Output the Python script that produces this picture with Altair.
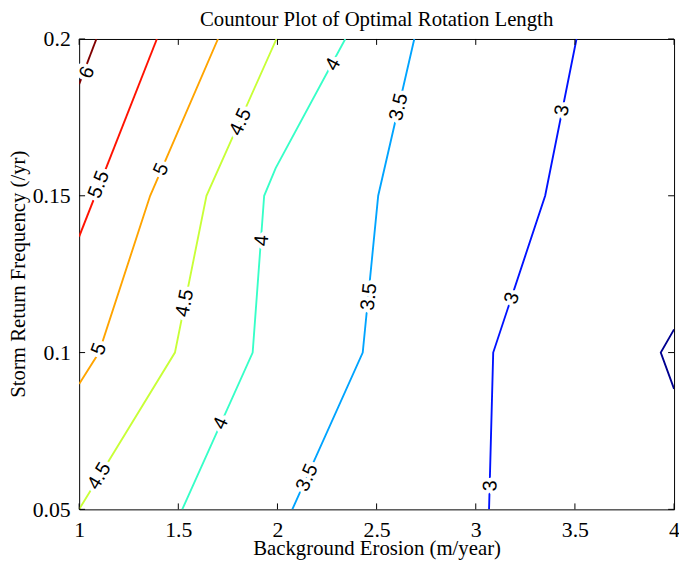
import altair as alt
import pandas as pd

# ---- data ----
levels = ["2.5", "3", "3.5", "4", "4.5", "5", "5.5", "6"]
level_colors = ["#000090", "#0012ff", "#00a4ff", "#37ffc8", "#c8ff37", "#ffa400", "#ff1200", "#800000"]

c25_x = [4.0, 3.933, 4.0]
c25_y = [0.1074, 0.1, 0.0884]
c3_x = [3.067, 3.088, 3.35, 3.508]
c3_y = [0.05, 0.1, 0.15, 0.2]
c35_x = [2.075, 2.43, 2.508, 2.69]
c35_y = [0.05, 0.1, 0.15, 0.2]
c4_x = [1.52, 1.875, 1.933, 1.991, 2.342]
c4_y = [0.05, 0.1, 0.15, 0.1588, 0.2]
c45_x = [1.0, 1.483, 1.642, 1.995]
c45_y = [0.05, 0.1, 0.15, 0.2]
c5_x = [1.0, 1.10, 1.358, 1.70]
c5_y = [0.090, 0.1, 0.15, 0.2]
c55_x = [1.0, 1.392]
c55_y = [0.137, 0.2]
c6_x = [1.0, 1.087]
c6_y = [0.1856, 0.2]

label_text = ["6", "5.5", "5", "5", "4.5", "4.5", "4.5", "4", "4", "4",
              "3.5", "3.5", "3.5", "3", "3", "3"]
label_x = [1.041, 1.100, 1.414, 1.100, 1.814, 1.533, 1.102, 2.280, 1.922, 1.714,
           2.612, 2.462, 2.150, 3.436, 3.183, 3.075]
label_y = [0.1893, 0.1536, 0.1584, 0.1011, 0.1735, 0.1158, 0.0606, 0.1919, 0.1357, 0.0774,
           0.1783, 0.1178, 0.0601, 0.1772, 0.1173, 0.0575]
label_angle = [291, 291, 294, 290, 295, 281, 301, 298, 274, 294,
               283, 276, 294, 281, 288, 272]

x_ticks = [1, 1.5, 2, 2.5, 3, 3.5, 4]
y_ticks = [0.05, 0.1, 0.15, 0.2]

title_text = "Countour Plot of Optimal Rotation Length"
x_title = "Background Erosion (m/year)"
y_title = "Storm Return Frequency (/yr)"

# ---- tables ----
rows = []
for lvl, xs_, ys_ in [("2.5", c25_x, c25_y), ("3", c3_x, c3_y), ("3.5", c35_x, c35_y),
                      ("4", c4_x, c4_y), ("4.5", c45_x, c45_y), ("5", c5_x, c5_y),
                      ("5.5", c55_x, c55_y), ("6", c6_x, c6_y)]:
    for i, (a, b) in enumerate(zip(xs_, ys_)):
        rows.append({"level": lvl, "x": a, "y": b, "i": i})
lines_df = pd.DataFrame(rows)
labels_df = pd.DataFrame({"t": label_text, "x": label_x, "y": label_y, "a": label_angle})
xt_df = pd.DataFrame({"x": x_ticks})
yt_df = pd.DataFrame({"y": y_ticks})

W, H = 602, 476
xs = alt.Scale(domain=[1, 4], nice=False, zero=False)
ys = alt.Scale(domain=[0.05, 0.2], nice=False, zero=False)

serif = "Liberation Serif"

x_axis = alt.Axis(values=x_ticks, format="~g", labelBaseline="alphabetic",
                  labelPadding=27, grid=False, ticks=False, tickSize=0, domain=False,
                  labelFont=serif, labelFontSize=22, labelColor="black", labelFlush=False,
                  title=x_title, titleX=301, titleY=46, titleFont=serif, titleFontSize=21,
                  titleFontWeight="normal", titleColor="black",
                  titleBaseline="alphabetic", titleAnchor="middle")
y_axis = alt.Axis(values=y_ticks, format="~g", labelPadding=9, title=None,
                  grid=False, ticks=False, tickSize=0, domain=False,
                  labelFont=serif, labelFontSize=22, labelColor="black", labelFlush=False)

lines = alt.Chart(lines_df).mark_line(strokeWidth=1.9, clip=True).encode(
    x=alt.X("x:Q", scale=xs, axis=x_axis),
    y=alt.Y("y:Q", scale=ys, axis=y_axis),
    color=alt.Color("level:N", scale=alt.Scale(domain=levels, range=level_colors), legend=None),
    order="i:Q",
)

halo = alt.Chart(labels_df).mark_text(font="Liberation Sans", fontSize=20, fill="white",
                                      stroke="white", strokeWidth=8, strokeJoin="round",
                                      baseline="middle", align="center").encode(
    x=alt.X("x:Q", scale=xs), y=alt.Y("y:Q", scale=ys), text="t:N",
    angle=alt.Angle("a:Q", scale=None))

texts = alt.Chart(labels_df).mark_text(font="Liberation Sans", fontSize=20, color="black",
                                       baseline="middle", align="center").encode(
    x=alt.X("x:Q", scale=xs), y=alt.Y("y:Q", scale=ys), text="t:N",
    angle=alt.Angle("a:Q", scale=None))

tb = alt.Chart(xt_df).mark_rule(color="black", strokeWidth=1).encode(
    x=alt.X("x:Q", scale=xs), y=alt.value(H), y2=alt.value(H - 6))
tt = alt.Chart(xt_df).mark_rule(color="black", strokeWidth=1).encode(
    x=alt.X("x:Q", scale=xs), y=alt.value(0), y2=alt.value(6))
tl = alt.Chart(yt_df).mark_rule(color="black", strokeWidth=1).encode(
    y=alt.Y("y:Q", scale=ys), x=alt.value(0), x2=alt.value(6))
tr = alt.Chart(yt_df).mark_rule(color="black", strokeWidth=1).encode(
    y=alt.Y("y:Q", scale=ys), x=alt.value(W), x2=alt.value(W - 6))

title_mark = alt.Chart(pd.DataFrame({"t": [title_text]})).mark_text(
    font=serif, fontSize=21, color="black", baseline="alphabetic", align="center").encode(
    text="t:N", x=alt.value(W / 2), y=alt.value(-13))

ytitle_mark = alt.Chart(pd.DataFrame({"t": [y_title]})).mark_text(
    font=serif, fontSize=21, color="black", baseline="middle", align="center", angle=270).encode(
    text="t:N", x=alt.value(-61), y=alt.value(H / 2))

chart = alt.layer(lines, halo, texts, tb, tt, tl, tr, title_mark, ytitle_mark).properties(
    width=W, height=H,
    padding={"left": 72, "top": 28, "right": 5, "bottom": 57},
    autosize=alt.AutoSizeParams(type="none"),
    background="white",
).configure_view(stroke="black", strokeWidth=1)

chart.save("out.html", embed_options={"renderer": "svg", "actions": False})
